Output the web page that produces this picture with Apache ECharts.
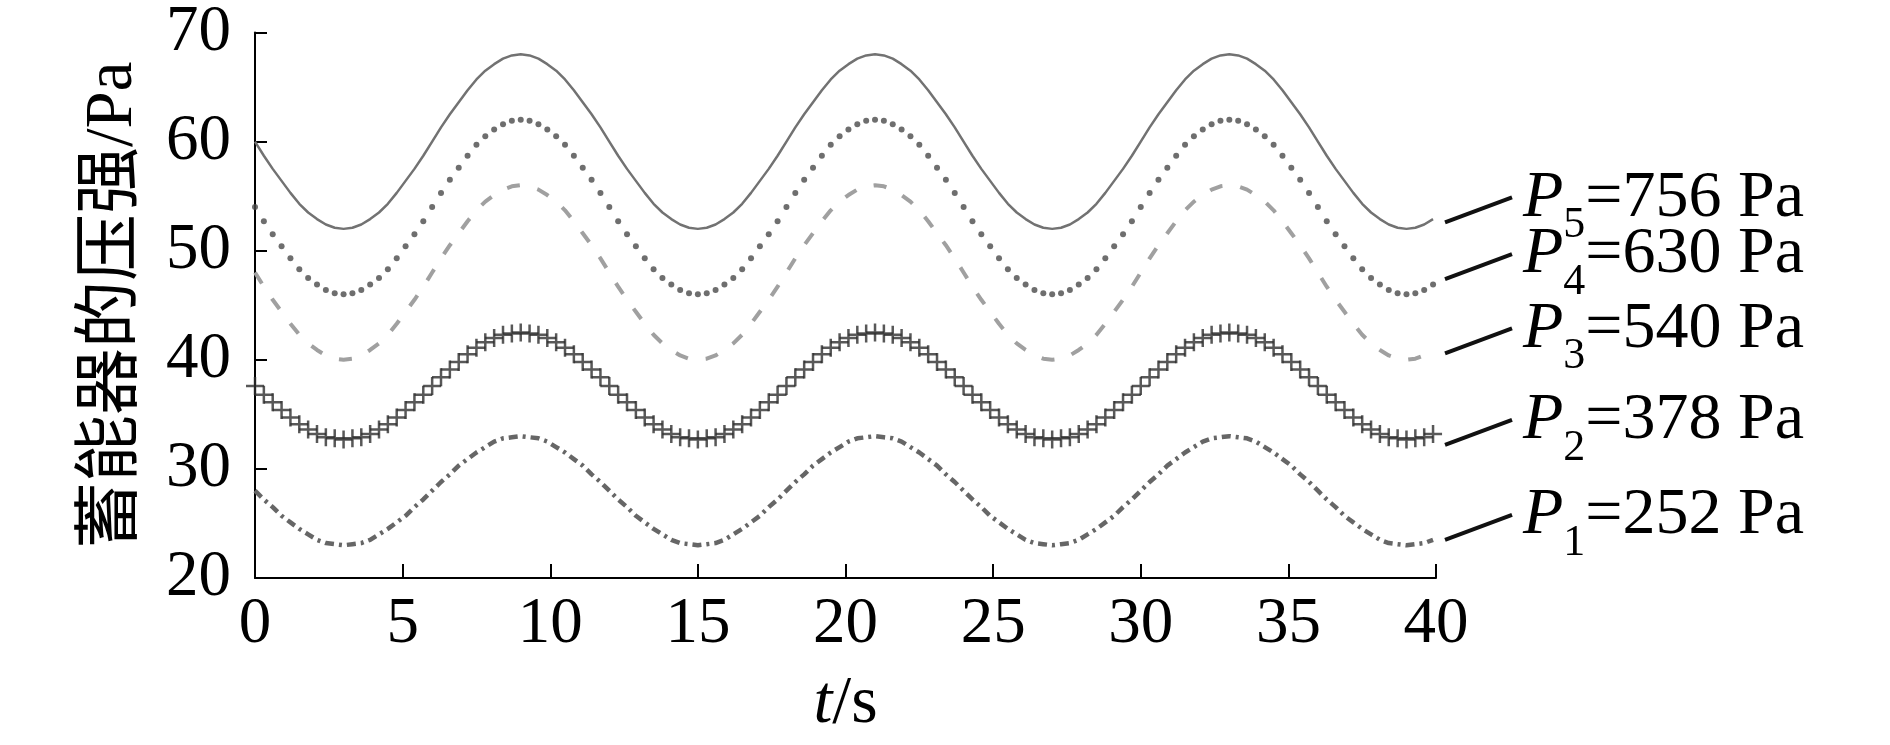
<!DOCTYPE html>
<html>
<head>
<meta charset="utf-8">
<script src="https://cdn.jsdelivr.net/npm/echarts@6/dist/echarts.min.js"></script>
<style>
  html, body { margin: 0; padding: 0; background: #fff; }
  #chart { width: 1890px; height: 745px; }
</style>
</head>
<body>
<div id="chart"></div>
<script>
// time (s)
const tData = [
    0, 0.3, 0.6, 0.9, 1.2, 1.5, 1.8, 2.1, 2.4, 2.7,
    3, 3.3, 3.6, 3.9, 4.2, 4.5, 4.8, 5.1, 5.4, 5.7,
    6, 6.3, 6.6, 6.9, 7.2, 7.5, 7.8, 8.1, 8.4, 8.7,
    9, 9.3, 9.6, 9.9, 10.2, 10.5, 10.8, 11.1, 11.4, 11.7,
    12, 12.3, 12.6, 12.9, 13.2, 13.5, 13.8, 14.1, 14.4, 14.7,
    15, 15.3, 15.6, 15.9, 16.2, 16.5, 16.8, 17.1, 17.4, 17.7,
    18, 18.3, 18.6, 18.9, 19.2, 19.5, 19.8, 20.1, 20.4, 20.7,
    21, 21.3, 21.6, 21.9, 22.2, 22.5, 22.8, 23.1, 23.4, 23.7,
    24, 24.3, 24.6, 24.9, 25.2, 25.5, 25.8, 26.1, 26.4, 26.7,
    27, 27.3, 27.6, 27.9, 28.2, 28.5, 28.8, 29.1, 29.4, 29.7,
    30, 30.3, 30.6, 30.9, 31.2, 31.5, 31.8, 32.1, 32.4, 32.7,
    33, 33.3, 33.6, 33.9, 34.2, 34.5, 34.8, 35.1, 35.4, 35.7,
    36, 36.3, 36.6, 36.9, 37.2, 37.5, 37.8, 38.1, 38.4, 38.7,
    39, 39.3, 39.6, 39.9
];

// P5 = 756 Pa
const p5Data = [
    60, 58.7, 57.5, 56.4, 55.3, 54.3, 53.5, 52.9, 52.4, 52.1,
    52, 52.1, 52.4, 52.9, 53.5, 54.3, 55.3, 56.4, 57.5, 58.7,
    60, 61.3, 62.5, 63.6, 64.7, 65.7, 66.5, 67.1, 67.6, 67.9,
    68, 67.9, 67.6, 67.1, 66.5, 65.7, 64.7, 63.6, 62.5, 61.3,
    60, 58.7, 57.5, 56.4, 55.3, 54.3, 53.5, 52.9, 52.4, 52.1,
    52, 52.1, 52.4, 52.9, 53.5, 54.3, 55.3, 56.4, 57.5, 58.7,
    60, 61.3, 62.5, 63.6, 64.7, 65.7, 66.5, 67.1, 67.6, 67.9,
    68, 67.9, 67.6, 67.1, 66.5, 65.7, 64.7, 63.6, 62.5, 61.3,
    60, 58.7, 57.5, 56.4, 55.3, 54.3, 53.5, 52.9, 52.4, 52.1,
    52, 52.1, 52.4, 52.9, 53.5, 54.3, 55.3, 56.4, 57.5, 58.7,
    60, 61.3, 62.5, 63.6, 64.7, 65.7, 66.5, 67.1, 67.6, 67.9,
    68, 67.9, 67.6, 67.1, 66.5, 65.7, 64.7, 63.6, 62.5, 61.3,
    60, 58.7, 57.5, 56.4, 55.3, 54.3, 53.5, 52.9, 52.4, 52.1,
    52, 52.1, 52.4, 52.9
];

// P4 = 630 Pa
const p4Data = [
    54, 52.7, 51.5, 50.4, 49.3, 48.3, 47.5, 46.9, 46.4, 46.1,
    46, 46.1, 46.4, 46.9, 47.5, 48.3, 49.3, 50.4, 51.5, 52.7,
    54, 55.3, 56.5, 57.6, 58.7, 59.7, 60.5, 61.1, 61.6, 61.9,
    62, 61.9, 61.6, 61.1, 60.5, 59.7, 58.7, 57.6, 56.5, 55.3,
    54, 52.7, 51.5, 50.4, 49.3, 48.3, 47.5, 46.9, 46.4, 46.1,
    46, 46.1, 46.4, 46.9, 47.5, 48.3, 49.3, 50.4, 51.5, 52.7,
    54, 55.3, 56.5, 57.6, 58.7, 59.7, 60.5, 61.1, 61.6, 61.9,
    62, 61.9, 61.6, 61.1, 60.5, 59.7, 58.7, 57.6, 56.5, 55.3,
    54, 52.7, 51.5, 50.4, 49.3, 48.3, 47.5, 46.9, 46.4, 46.1,
    46, 46.1, 46.4, 46.9, 47.5, 48.3, 49.3, 50.4, 51.5, 52.7,
    54, 55.3, 56.5, 57.6, 58.7, 59.7, 60.5, 61.1, 61.6, 61.9,
    62, 61.9, 61.6, 61.1, 60.5, 59.7, 58.7, 57.6, 56.5, 55.3,
    54, 52.7, 51.5, 50.4, 49.3, 48.3, 47.5, 46.9, 46.4, 46.1,
    46, 46.1, 46.4, 46.9
];

// P3 = 540 Pa
const p3Data = [
    48, 46.7, 45.5, 44.4, 43.3, 42.3, 41.5, 40.9, 40.4, 40.1,
    40, 40.1, 40.4, 40.9, 41.5, 42.3, 43.3, 44.4, 45.5, 46.7,
    48, 49.3, 50.5, 51.6, 52.7, 53.7, 54.5, 55.1, 55.6, 55.9,
    56, 55.9, 55.6, 55.1, 54.5, 53.7, 52.7, 51.6, 50.5, 49.3,
    48, 46.7, 45.5, 44.4, 43.3, 42.3, 41.5, 40.9, 40.4, 40.1,
    40, 40.1, 40.4, 40.9, 41.5, 42.3, 43.3, 44.4, 45.5, 46.7,
    48, 49.3, 50.5, 51.6, 52.7, 53.7, 54.5, 55.1, 55.6, 55.9,
    56, 55.9, 55.6, 55.1, 54.5, 53.7, 52.7, 51.6, 50.5, 49.3,
    48, 46.7, 45.5, 44.4, 43.3, 42.3, 41.5, 40.9, 40.4, 40.1,
    40, 40.1, 40.4, 40.9, 41.5, 42.3, 43.3, 44.4, 45.5, 46.7,
    48, 49.3, 50.5, 51.6, 52.7, 53.7, 54.5, 55.1, 55.6, 55.9,
    56, 55.9, 55.6, 55.1, 54.5, 53.7, 52.7, 51.6, 50.5, 49.3,
    48, 46.7, 45.5, 44.4, 43.3, 42.3, 41.5, 40.9, 40.4, 40.1,
    40, 40.1, 40.4, 40.9
];

// P2 = 378 Pa
const p2Data = [
    37.6, 36.8, 36.1, 35.4, 34.7, 34.1, 33.6, 33.2, 32.9, 32.8,
    32.7, 32.8, 32.9, 33.2, 33.6, 34.1, 34.7, 35.4, 36.1, 36.8,
    37.6, 38.4, 39.1, 39.8, 40.5, 41.1, 41.6, 42, 42.3, 42.4,
    42.5, 42.4, 42.3, 42, 41.6, 41.1, 40.5, 39.8, 39.1, 38.4,
    37.6, 36.8, 36.1, 35.4, 34.7, 34.1, 33.6, 33.2, 32.9, 32.8,
    32.7, 32.8, 32.9, 33.2, 33.6, 34.1, 34.7, 35.4, 36.1, 36.8,
    37.6, 38.4, 39.1, 39.8, 40.5, 41.1, 41.6, 42, 42.3, 42.4,
    42.5, 42.4, 42.3, 42, 41.6, 41.1, 40.5, 39.8, 39.1, 38.4,
    37.6, 36.8, 36.1, 35.4, 34.7, 34.1, 33.6, 33.2, 32.9, 32.8,
    32.7, 32.8, 32.9, 33.2, 33.6, 34.1, 34.7, 35.4, 36.1, 36.8,
    37.6, 38.4, 39.1, 39.8, 40.5, 41.1, 41.6, 42, 42.3, 42.4,
    42.5, 42.4, 42.3, 42, 41.6, 41.1, 40.5, 39.8, 39.1, 38.4,
    37.6, 36.8, 36.1, 35.4, 34.7, 34.1, 33.6, 33.2, 32.9, 32.8,
    32.7, 32.8, 32.9, 33.2
];

// P1 = 252 Pa
const p1Data = [
    28, 27.2, 26.5, 25.7, 25.1, 24.5, 24, 23.5, 23.2, 23.1,
    23, 23.1, 23.2, 23.5, 24, 24.5, 25.1, 25.7, 26.5, 27.2,
    28, 28.8, 29.5, 30.3, 30.9, 31.5, 32, 32.5, 32.8, 32.9,
    33, 32.9, 32.8, 32.5, 32, 31.5, 30.9, 30.3, 29.5, 28.8,
    28, 27.2, 26.5, 25.7, 25.1, 24.5, 24, 23.5, 23.2, 23.1,
    23, 23.1, 23.2, 23.5, 24, 24.5, 25.1, 25.7, 26.5, 27.2,
    28, 28.8, 29.5, 30.3, 30.9, 31.5, 32, 32.5, 32.8, 32.9,
    33, 32.9, 32.8, 32.5, 32, 31.5, 30.9, 30.3, 29.5, 28.8,
    28, 27.2, 26.5, 25.7, 25.1, 24.5, 24, 23.5, 23.2, 23.1,
    23, 23.1, 23.2, 23.5, 24, 24.5, 25.1, 25.7, 26.5, 27.2,
    28, 28.8, 29.5, 30.3, 30.9, 31.5, 32, 32.5, 32.8, 32.9,
    33, 32.9, 32.8, 32.5, 32, 31.5, 30.9, 30.3, 29.5, 28.8,
    28, 27.2, 26.5, 25.7, 25.1, 24.5, 24, 23.5, 23.2, 23.1,
    23, 23.1, 23.2, 23.5
];

// labels on the right, top to bottom
const labelSubs = ['5', '4', '3', '2', '1'];
const labelPressures = ['756', '630', '540', '378', '252'];

const serif = "'Liberation Serif', 'Noto Sans CJK SC', serif";

function pairs(ys) {
    return tData.map((t, i) => [t, ys[i]]);
}

const chart = echarts.init(document.getElementById('chart'));

const option = {
    backgroundColor: '#fff',
    animation: false,
    grid: { left: 255, right: 454, top: 29, bottom: 167 },
    xAxis: {
        type: 'value',
        min: 0,
        max: 40,
        interval: 5,
        name: '{i|t}/s',
        nameLocation: 'middle',
        nameGap: 92,
        nameTextStyle: {
            fontFamily: serif,
            fontSize: 68,
            color: '#000',
            rich: { i: { fontFamily: serif, fontSize: 68, fontStyle: 'italic', color: '#000' } }
        },
        axisLine: { lineStyle: { color: '#000', width: 2 } },
        axisTick: { inside: true, length: 14, lineStyle: { color: '#000', width: 2 } },
        axisLabel: { fontFamily: serif, fontSize: 65, color: '#000', margin: 14 },
        splitLine: { show: false }
    },
    yAxis: {
        type: 'value',
        min: 20,
        max: 70,
        interval: 10,
        name: '蓄能器的压强/Pa',
        nameLocation: 'middle',
        nameRotate: 90,
        nameGap: 108,
        nameTextStyle: { fontFamily: serif, fontSize: 67, color: '#000' },
        axisLine: { show: true, lineStyle: { color: '#000', width: 2 } },
        axisTick: { show: true, inside: true, length: 12, lineStyle: { color: '#000', width: 2 } },
        axisLabel: { fontFamily: serif, fontSize: 65, color: '#000', margin: 24 },
        splitLine: { show: false }
    },
    series: [
        {
            name: 'P5',
            type: 'line',
            data: pairs(p5Data),
            showSymbol: false,
            lineStyle: { color: '#727272', width: 2.5 }
        },
        {
            name: 'P4',
            type: 'scatter',
            data: pairs(p4Data),
            symbol: 'circle',
            symbolSize: 6,
            itemStyle: { color: '#4a4a4a' }
        },
        {
            name: 'P3',
            type: 'line',
            data: pairs(p3Data),
            showSymbol: false,
            lineStyle: { color: '#a0a0a0', width: 4, type: [13, 18] }
        },
        {
            name: 'P2',
            type: 'scatter',
            data: pairs(p2Data),
            symbol: 'path://M8,0L8,16M0,8L16,8',
            symbolSize: 18,
            itemStyle: { color: 'transparent', borderColor: '#2e2e2e', borderWidth: 2.5 }
        },
        {
            name: 'P1',
            type: 'line',
            data: pairs(p1Data),
            showSymbol: false,
            lineStyle: { color: '#666', width: 4.5, type: [9, 5, 3, 5] }
        }
    ]
};

chart.setOption(option);

// leader lines + labels, anchored in data units near the end of each curve
const labelAnchors = [52.6, 47.4, 40.6, 32.2, 23.5];
const graphics = [];
labelSubs.forEach((sub, i) => {
    const p = chart.convertToPixel({ gridIndex: 0 }, [40, labelAnchors[i]]);
    graphics.push({
        type: 'line',
        shape: { x1: p[0] + 9, y1: p[1], x2: p[0] + 76, y2: p[1] - 25 },
        style: { stroke: '#111', lineWidth: 4 }
    });
    graphics.push({
        type: 'text',
        x: p[0] + 87,
        y: p[1] - 24,
        style: {
            text: '{i|P}{s|' + sub + '}{n|=' + labelPressures[i] + ' Pa}',
            verticalAlign: 'middle',
            rich: {
                i: { fontFamily: serif, fontSize: 66, lineHeight: 66, fontStyle: 'italic', fill: '#000' },
                s: { fontFamily: serif, fontSize: 44, lineHeight: 44, fill: '#000', padding: [55, 0, 0, 0] },
                n: { fontFamily: serif, fontSize: 66, lineHeight: 66, fill: '#000' }
            }
        }
    });
});
chart.setOption({ graphic: graphics });
</script>
</body>
</html>
